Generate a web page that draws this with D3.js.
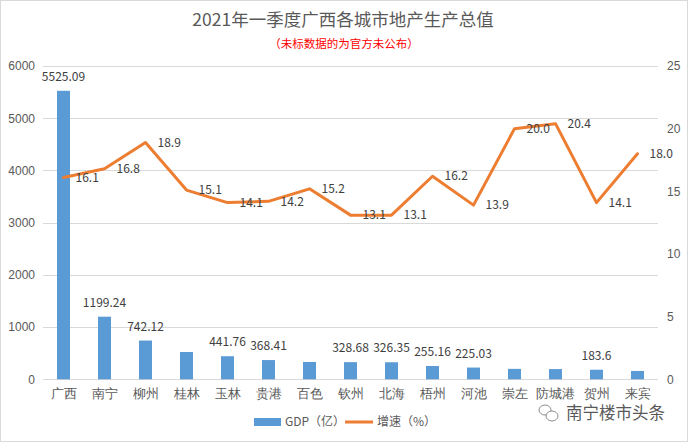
<!DOCTYPE html>
<html>
<head>
<meta charset="utf-8">
<script src="https://cdn.jsdelivr.net/npm/d3@7"></script>
<style>
  html, body { margin: 0; padding: 0; background: #fff; }
  svg { display: block; font-family: "Noto Sans CJK SC", "Noto Sans", sans-serif; }
</style>
</head>
<body>
<div id="chart-container"><svg></svg></div>
<script>
// Chart data
const cities = ['广西', '南宁', '柳州', '桂林', '玉林', '贵港', '百色', '钦州', '北海', '梧州', '河池', '崇左', '防城港', '贺州', '来宾'];
const gdp = [5525.09, 1199.24, 742.12, 523, 441.76, 368.41, 332, 328.68, 326.35, 255.16, 225.03, 200, 196, 183.6, 160];
// only some values were published, the rest carry no label
const gdpLabels = ['5525.09', '1199.24', '742.12', '', '441.76', '368.41', '', '328.68', '326.35', '255.16', '225.03', '', '', '183.6', ''];
const growth = [16.1, 16.8, 18.9, 15.1, 14.1, 14.2, 15.2, 13.1, 13.1, 16.2, 13.9, 20.0, 20.4, 14.1, 18.0];
const gdpTicks = [0, 1000, 2000, 3000, 4000, 5000, 6000];
const growthTicks = [0, 5, 10, 15, 20, 25];

function CreateGdpChart() {
    var svgWidth = 688;
    var svgHeight = 442;
    var plot = {l: 43, r: 658, t: 66, b: 379.3};

    const svg = d3.select('#chart-container > svg');
    svg.selectAll('*').remove();
    svg.attr('width', svgWidth).attr('height', svgHeight);

    // Frame
    svg.append('rect')
        .attr('x', 0.5).attr('y', 0.5)
        .attr('width', svgWidth - 1).attr('height', svgHeight - 1)
        .attr('fill', '#fff')
        .attr('stroke', '#d9d9d9');

    // Title
    svg.append('text')
        .attr('x', 343).attr('y', 26)
        .attr('text-anchor', 'middle')
        .attr('font-size', '17.5px')
        .attr('fill', '#595959')
        .text('2021年一季度广西各城市地产生产总值');
    svg.append('text')
        .attr('x', 344).attr('y', 48)
        .attr('text-anchor', 'middle')
        .attr('font-size', '11.5px')
        .attr('fill', '#ff0000')
        .text('（未标数据的为官方未公布）');

    // Scales
    var xScale = d3.scaleBand()
        .domain(cities)
        .range([plot.l, plot.r])
        .paddingInner(0.683)
        .paddingOuter(0.683 / 2);
    var yLeft = d3.scaleLinear().domain([0, 6000]).range([plot.b, plot.t]);
    var yRight = d3.scaleLinear().domain([0, 25]).range([plot.b, plot.t]);

    // Gridlines
    svg.append('g').selectAll('line')
        .data(gdpTicks)
        .enter()
        .append('line')
        .attr('x1', plot.l).attr('x2', plot.r)
        .attr('y1', d => Math.round(yLeft(d)) + 0.5)
        .attr('y2', d => Math.round(yLeft(d)) + 0.5)
        .attr('stroke', '#d9d9d9')
        .attr('stroke-width', 1);

    // Left axis
    var leftAxis = svg.append('g')
        .attr('transform', 'translate(' + [plot.l, 0] + ')')
        .call(d3.axisLeft(yLeft).tickValues(gdpTicks).tickSize(0).tickPadding(8).tickFormat(d3.format('d')));
    leftAxis.select('.domain').remove();
    leftAxis.selectAll('text')
        .attr('font-family', null)
        .attr('font-size', '12px')
        .attr('fill', '#595959');

    // Right axis
    var rightAxis = svg.append('g')
        .attr('transform', 'translate(' + [plot.r, 0] + ')')
        .call(d3.axisRight(yRight).tickValues(growthTicks).tickSize(0).tickPadding(9));
    rightAxis.select('.domain').remove();
    rightAxis.selectAll('text')
        .attr('font-family', null)
        .attr('font-size', '12px')
        .attr('fill', '#595959');

    // Category axis
    var xAxis = svg.append('g')
        .attr('transform', 'translate(' + [0, plot.b] + ')')
        .call(d3.axisBottom(xScale).tickSize(0).tickPadding(9));
    xAxis.select('.domain').remove();
    xAxis.selectAll('text')
        .attr('font-family', null)
        .attr('font-size', '13px')
        .attr('fill', '#595959');

    // Bars
    var data = cities.map((c, i) => ({city: c, gdp: gdp[i], label: gdpLabels[i], growth: growth[i]}));
    svg.append('g').selectAll('.bar')
        .data(data)
        .enter()
        .append('rect')
        .attr('class', 'bar')
        .attr('x', d => xScale(d.city))
        .attr('y', d => yLeft(d.gdp))
        .attr('width', xScale.bandwidth())
        .attr('height', d => plot.b - yLeft(d.gdp))
        .attr('fill', '#5b9bd5');

    svg.append('g').selectAll('.bar-label')
        .data(data.filter(d => d.label !== ''))
        .enter()
        .append('text')
        .attr('class', 'bar-label')
        .attr('x', d => xScale(d.city) + xScale.bandwidth() / 2)
        .attr('y', d => yLeft(d.gdp) - 10)
        .attr('text-anchor', 'middle')
        .attr('font-size', '12px')
        .attr('fill', '#404040')
        .text(d => d.label);

    // Growth line
    var line = d3.line()
        .x(d => xScale(d.city) + xScale.bandwidth() / 2)
        .y(d => yRight(d.growth));
    svg.append('path')
        .datum(data)
        .attr('d', line)
        .attr('fill', 'none')
        .attr('stroke', '#ed7d31')
        .attr('stroke-width', 3)
        .attr('stroke-linejoin', 'round')
        .attr('stroke-linecap', 'round');

    svg.append('g').selectAll('.line-label')
        .data(data)
        .enter()
        .append('text')
        .attr('class', 'line-label')
        .attr('x', d => xScale(d.city) + xScale.bandwidth() / 2 + 12)
        .attr('y', d => yRight(d.growth))
        .attr('dy', '0.35em')
        .attr('font-size', '12px')
        .attr('fill', '#404040')
        .text(d => d.growth.toFixed(1));

    // Legend
    var legend = svg.append('g');
    legend.append('rect')
        .attr('x', 254).attr('y', 418)
        .attr('width', 27).attr('height', 8)
        .attr('fill', '#5b9bd5');
    legend.append('text')
        .attr('x', 285).attr('y', 422).attr('dy', '0.35em')
        .attr('font-size', '12px').attr('fill', '#595959')
        .text('GDP（亿）');
    legend.append('line')
        .attr('x1', 345).attr('x2', 373)
        .attr('y1', 422).attr('y2', 422)
        .attr('stroke', '#ed7d31').attr('stroke-width', 3);
    legend.append('text')
        .attr('x', 377).attr('y', 422).attr('dy', '0.35em')
        .attr('font-size', '12px').attr('fill', '#595959')
        .text('增速（%）');

    // Account watermark
    var mark = svg.append('g').attr('fill', 'none').attr('stroke', '#8c8c8c').attr('stroke-width', 1);
    mark.append('ellipse').attr('cx', 545).attr('cy', 410).attr('rx', 6).attr('ry', 5);
    mark.append('ellipse').attr('cx', 552).attr('cy', 416).attr('rx', 6).attr('ry', 5).attr('fill', '#fff');
    svg.append('text')
        .attr('x', 566).attr('y', 413).attr('dy', '0.35em')
        .attr('font-size', '16.5px')
        .attr('fill', '#595959')
        .text('南宁楼市头条');
}

CreateGdpChart();
</script>
</body>
</html>
